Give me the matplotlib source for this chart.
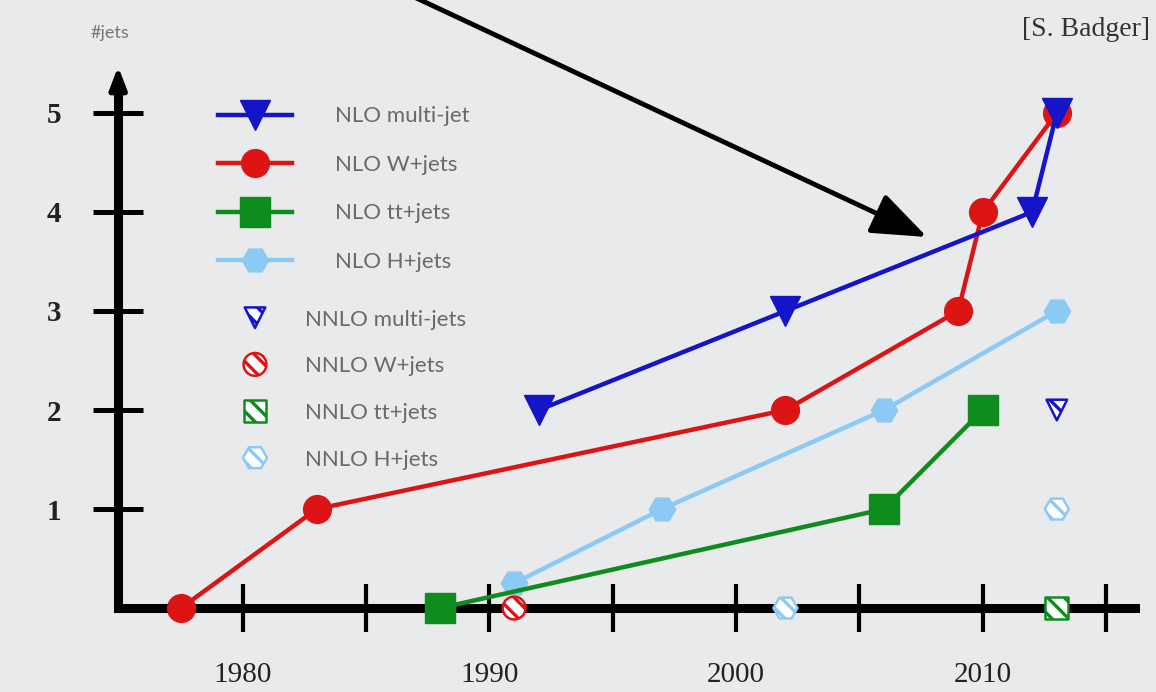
import matplotlib
matplotlib.use('Agg')
import matplotlib.pyplot as plt

# ---------------- data ----------------
mj_years = [1992, 2002, 2012, 2013]
mj_jets = [2, 3, 4, 5]
w_years = [1977.5, 1983, 2002, 2009, 2010, 2013]
w_jets = [0, 1, 2, 3, 4, 5]
tt_years = [1988, 2006, 2010]
tt_jets = [0, 1, 2]
h_years = [1991, 1997, 2006, 2013]
h_jets = [0.25, 1, 2, 3]

nnlo_mj_years = [2013]
nnlo_mj_jets = [2]
nnlo_w_years = [1991]
nnlo_w_jets = [0]
nnlo_tt_years = [2013]
nnlo_tt_jets = [0]
nnlo_h_years = [2002, 2013]
nnlo_h_jets = [0, 1]

xtick_years = [1980, 1985, 1990, 1995, 2000, 2005, 2010, 2015]
xtick_labels = ['1980', '', '1990', '', '2000', '', '2010', '']
ytick_values = [1, 2, 3, 4, 5]
ytick_labels = ['1', '2', '3', '4', '5']

nlo_labels = ['NLO multi-jet', 'NLO W+jets', 'NLO tt+jets', 'NLO H+jets']
nnlo_labels = ['NNLO multi-jets', 'NNLO W+jets', 'NNLO tt+jets', 'NNLO H+jets']

# ---------------- style ----------------
BLUE = '#1414c8'
RED = '#dc1414'
GREEN = '#0e8c1e'
LBLUE = '#8ccaf5'
BG = '#e9eaec'
plt.rcParams['hatch.linewidth'] = 2.4

W, H = 1156, 692
fig = plt.figure(figsize=(W / 100, H / 100), dpi=100, facecolor=BG)
ax = fig.add_axes([0, 0, 1, 1])
ax.set_facecolor(BG)
ax.set_xlim(1970.16, 2017.02)
ax.set_ylim(-0.848, 6.141)

x0 = 1974.95
for side in ['top', 'right']:
    ax.spines[side].set_visible(False)
ax.spines['left'].set_position(('data', x0))
ax.spines['bottom'].set_position(('data', 0))
ax.spines['left'].set_bounds(0, 5.25)
ax.spines['bottom'].set_bounds(x0, 2016.17)
for side in ['left', 'bottom']:
    ax.spines[side].set_linewidth(6.5)
    ax.spines[side].set_zorder(2)

ax.annotate('', xy=(x0, 5.47), xytext=(x0, 5.1),
            arrowprops=dict(arrowstyle='-|>,head_length=1.1,head_width=0.42',
                            lw=4, color='black', shrinkA=0, shrinkB=0,
                            mutation_scale=12), zorder=2)

ax.set_xticks(xtick_years, xtick_labels)
ax.set_yticks(ytick_values, ytick_labels)
ax.tick_params(axis='x', direction='inout', length=34, width=3, pad=22,
               labelsize=21, colors='black')
ax.tick_params(axis='y', direction='inout', length=36, width=3.6, pad=23,
               labelsize=21, colors='black')
for lbl in ax.get_xticklabels():
    lbl.set_fontfamily('Liberation Serif')
    lbl.set_color('#222222')
for lbl in ax.get_yticklabels():
    lbl.set_fontfamily('Liberation Serif')
    lbl.set_fontweight('bold')
    lbl.set_color('#222222')

# ---------------- NLO lines ----------------
lw = 3.2
l_h, = ax.plot(h_years, h_jets, color=LBLUE, lw=lw, marker='H', ms=19, zorder=4)
l_tt, = ax.plot(tt_years, tt_jets, color=GREEN, lw=lw, marker='s', ms=21, zorder=5)
l_w, = ax.plot(w_years, w_jets, color=RED, lw=lw, marker='o', ms=20, zorder=6)
l_mj, = ax.plot(mj_years, mj_jets, color=BLUE, lw=lw, marker='v', ms=22, zorder=7)

# ---------------- NNLO markers ----------------
s_mj = ax.scatter(nnlo_mj_years, nnlo_mj_jets, s=220, marker='v', facecolor='white',
                  edgecolor=BLUE, linewidths=1.8, hatch='\\\\', zorder=8)
s_w = ax.scatter(nnlo_w_years, nnlo_w_jets, s=270, marker='o', facecolor='white',
                 edgecolor=RED, linewidths=1.8, hatch='\\\\', zorder=8)
s_tt = ax.scatter(nnlo_tt_years, nnlo_tt_jets, s=270, marker='s', facecolor='white',
                  edgecolor=GREEN, linewidths=1.8, hatch='\\\\', zorder=8)
s_h = ax.scatter(nnlo_h_years, nnlo_h_jets, s=300, marker='H', facecolor='white',
                 edgecolor=LBLUE, linewidths=1.8, hatch='\\\\', zorder=8)

# ---------------- legends ----------------
prop = dict(family='Lato', size=16)
leg1 = ax.legend([l_mj, l_w, l_tt, l_h], nlo_labels, loc='upper left',
                 bbox_to_anchor=(218 / W, 1 - 106.5 / H), frameon=False, prop=prop,
                 labelcolor='#6a6a6a', handlelength=3.33, handletextpad=1.94,
                 labelspacing=1.28, borderpad=0, borderaxespad=0, numpoints=1)
ax.add_artist(leg1)
leg2 = ax.legend([s_mj, s_w, s_tt, s_h], nnlo_labels, loc='upper left',
                 bbox_to_anchor=(218 / W, 1 - 309.5 / H), frameon=False, prop=prop,
                 labelcolor='#6a6a6a', handlelength=3.33, handletextpad=0.59,
                 labelspacing=1.2, borderpad=0, borderaxespad=0,
                 scatterpoints=1, scatteryoffsets=[0.5])

# ---------------- annotations ----------------
fig.text(110 / W, 1 - 33 / H, '#jets', family='Lato', size=13, color='#777777',
         ha='center', va='center')
fig.text(1150 / W, 1 - 30 / H, '[S. Badger]', family='Liberation Serif', size=20,
         color='#333333', ha='right', va='center')
ax.annotate('', xy=(927, H - 237), xycoords='figure pixels',
            xytext=(412, H + 4), textcoords='figure pixels',
            arrowprops=dict(arrowstyle='-|>,head_length=1.7,head_width=0.65',
                            lw=3.5, color='black', shrinkA=0, shrinkB=0,
                            mutation_scale=20))

fig.savefig('out.png', dpi=100, facecolor=BG)
